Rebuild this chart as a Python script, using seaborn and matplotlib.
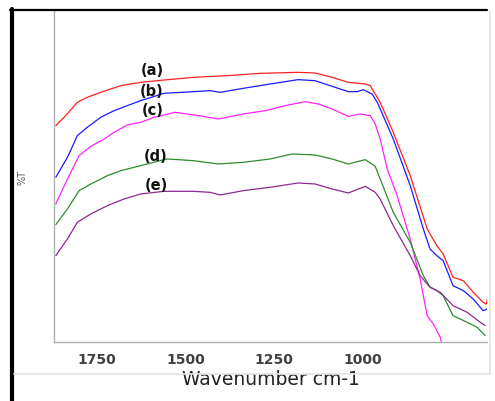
import matplotlib
matplotlib.use("Agg")
import matplotlib.pyplot as plt
from matplotlib.lines import Line2D
import seaborn as sns
import pandas as pd

# ---- data (wavenumber cm-1, %T arbitrary units) ----
wn_a = [1867, 1839, 1806, 1778, 1740, 1683, 1627, 1561, 1478, 1383, 1289, 1182, 1134, 1086, 1040, 992, 978, 950, 913, 865, 817, 790, 772, 744, 715, 687, 659, 650, 647]
t_a = [65.0, 68.0, 72.0, 73.5, 75.0, 77.0, 78.0, 78.7, 79.5, 80.0, 80.7, 81.0, 80.8, 79.5, 78.0, 77.5, 77.0, 72.0, 63.0, 50.0, 34.0, 29.0, 26.5, 19.5, 18.5, 15.0, 12.0, 11.5, 13.0]

wn_b = [1867, 1834, 1806, 1778, 1740, 1702, 1665, 1627, 1561, 1478, 1431, 1402, 1337, 1261, 1182, 1134, 1086, 1040, 1015, 998, 973, 958, 913, 865, 828, 809, 790, 772, 744, 715, 687, 659, 647]
t_b = [49.5, 55.5, 62.0, 64.5, 67.5, 69.5, 71.0, 72.5, 74.7, 75.2, 75.5, 75.0, 76.2, 77.5, 78.8, 78.5, 76.8, 75.2, 75.2, 75.8, 74.5, 72.0, 61.0, 47.0, 34.0, 28.0, 26.0, 24.5, 17.0, 15.5, 13.0, 9.5, 10.0]

wn_c = [1867, 1834, 1801, 1768, 1730, 1702, 1665, 1627, 1589, 1561, 1530, 1516, 1450, 1408, 1337, 1275, 1219, 1162, 1125, 1086, 1040, 1006, 978, 964, 950, 930, 902, 865, 837, 817, 800, 780, 770]
t_c = [41.5, 49.0, 56.0, 58.8, 61.0, 63.0, 65.2, 66.0, 67.5, 68.2, 69.0, 68.8, 67.8, 67.0, 68.5, 69.5, 71.0, 72.2, 71.5, 70.0, 67.8, 68.5, 68.0, 65.5, 61.0, 52.0, 44.0, 31.0, 19.0, 8.0, 5.5, 1.5, -3.0]

wn_d = [1867, 1834, 1801, 1768, 1721, 1683, 1627, 1561, 1552, 1478, 1408, 1337, 1261, 1199, 1134, 1086, 1040, 992, 964, 950, 913, 865, 828, 809, 790, 772, 744, 704, 676, 653]
t_d = [35.3, 40.0, 45.5, 47.5, 50.0, 51.5, 53.0, 54.8, 55.0, 54.5, 53.5, 54.0, 55.0, 56.5, 56.2, 55.0, 53.5, 54.8, 52.8, 49.0, 39.0, 30.0, 20.0, 16.6, 15.5, 14.0, 8.0, 6.0, 4.5, 2.0]

wn_e = [1867, 1834, 1806, 1768, 1721, 1674, 1627, 1561, 1478, 1431, 1402, 1337, 1261, 1182, 1134, 1086, 1040, 992, 964, 950, 913, 865, 837, 809, 780, 744, 704, 667, 653]
t_e = [26.0, 31.0, 36.0, 38.5, 41.0, 43.0, 44.5, 45.3, 45.3, 45.0, 44.2, 45.5, 46.5, 47.8, 47.5, 46.0, 44.8, 46.8, 45.0, 43.0, 35.0, 26.0, 20.0, 16.5, 15.0, 11.0, 9.0, 6.0, 5.0]

series_names = ["(a)", "(b)", "(c)", "(d)", "(e)"]
series_colors = ["#ff2020", "#1a1aff", "#ff22ff", "#2e8b2e", "#8b2a8b"]
label_x = [1595, 1595, 1592, 1586, 1583]
label_y = [81.7, 75.4, 69.7, 55.9, 47.2]
tick_values = [1750, 1500, 1250, 1000, 750]
tick_labels = ["1750", "1500", "1250", "1000", ""]

frames = []
for name, wn, t in zip(series_names, [wn_a, wn_b, wn_c, wn_d, wn_e], [t_a, t_b, t_c, t_d, t_e]):
    frames.append(pd.DataFrame({"wavenumber": wn, "T": t, "sample": name}))
df = pd.concat(frames, ignore_index=True)

sns.set_style("white")
plt.rcParams["font.family"] = ["DejaVu Sans"]

W, H = 495, 402
fig = plt.figure(figsize=(W / 100, H / 100), dpi=100)
ax = fig.add_axes([54 / W, (H - 343.3) / H, (487 - 54) / W, (343.3 - 12) / H])

sns.lineplot(data=df, x="wavenumber", y="T", hue="sample", palette=series_colors,
             estimator=None, sort=False, linewidth=0.9, legend=False, ax=ax)

ax.set_xlim(1872, 648)
ax.set_ylim(0, 99.4)
ax.set_yticks([])
ax.set_xticks(tick_values)
ax.set_xticklabels(tick_labels, fontsize=10, fontweight="bold", color="#404040")
ax.tick_params(axis="x", length=3, width=0.8, color="#888888", pad=4, direction="out")

for s in ["top", "right"]:
    ax.spines[s].set_visible(False)
for s in ["left", "bottom"]:
    ax.spines[s].set_color("#b0b0b0")
    ax.spines[s].set_linewidth(1.0)

ax.set_xlabel("Wavenumber cm-1", fontsize=13.5, color="#222222", labelpad=2)
ax.set_ylabel("%T", fontsize=7, color="#555555")
ax.yaxis.set_label_coords((27 - 54) / 433, 0.5)

for name, lx, ly in zip(series_names, label_x, label_y):
    ax.text(lx, ly, name, fontsize=10.5, fontweight="bold", color="#111111",
            ha="center", va="center")

# figure decorations (frame lines)
fig.add_artist(Line2D([12 / W, 12 / W], [0, (H - 10) / H], color="black", lw=3.0,
                      transform=fig.transFigure))
fig.add_artist(Line2D([10 / W, 487 / W], [(H - 11) / H, (H - 11) / H], color="black", lw=1.6,
                      transform=fig.transFigure))
fig.add_artist(Line2D([490 / W, 490 / W], [(H - 12) / H, (H - 375) / H], color="#e4e4e4", lw=1.2,
                      transform=fig.transFigure))
fig.add_artist(Line2D([14 / W, 490 / W], [(H - 375) / H, (H - 375) / H], color="#e4e4e4", lw=1.2,
                      transform=fig.transFigure))

fig.savefig("out.png", dpi=100)
